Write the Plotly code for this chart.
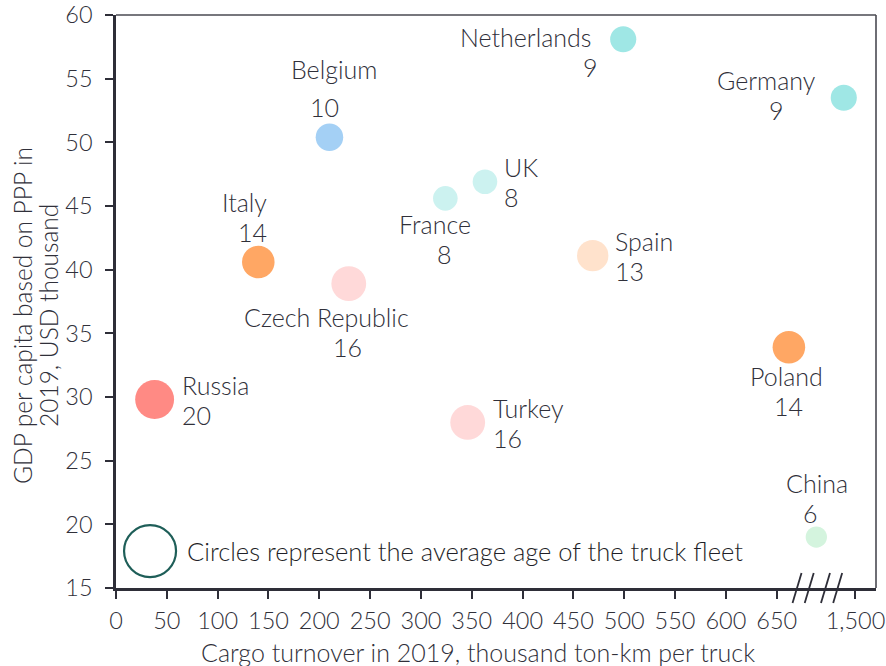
import numpy as np
import plotly.graph_objects as go

# Countries, cargo turnover (axis position, thousand ton-km per truck),
# GDP per capita (PPP, USD thousand) and average truck-fleet age (years).
# Germany and China sit on the compressed segment past the axis break.
countries = ["Russia", "Italy", "Czech Republic", "Belgium", "Netherlands", "Germany",
             "UK", "France", "Spain", "Turkey", "Poland", "China"]
cargo_pos = [38, 140, 229, 210, 499, 716, 363, 324, 469, 346, 662, 689]
gdp = [29.8, 40.6, 38.9, 50.4, 58.1, 53.5, 46.9, 45.6, 41.1, 28.0, 33.9, 19.0]
fleet_age = [20, 14, 16, 10, 9, 9, 8, 8, 13, 16, 14, 6]
colors = ["#FF8A84", "#FFA764", "#FFD9D9", "#A4D0F5", "#9FE7E5", "#9FE7E5",
          "#CCF2F0", "#CCF2F0", "#FFE2CC", "#FFD9D9", "#FFA764", "#D4F4DE"]

x_ticks = list(range(0, 651, 50)) + [727.5]
x_tick_text = [str(v) for v in range(0, 651, 50)] + ["1,500"]
y_ticks = list(range(15, 61, 5))
break_marks = [670, 682, 698, 710]

X_RANGE = [0, 747.7]
Y_RANGE = [15, 60]

FONT = "Lato"
TXT = "#30303A"
AXIS = "#2E2E38"
LABEL_SIZE = 25

fig = go.Figure()

# Bubbles: area proportional to fleet age
fig.add_trace(go.Scatter(
    x=cargo_pos, y=gdp, mode="markers",
    marker=dict(size=8.7 * np.sqrt(fleet_age), sizemode="diameter",
                color=colors, opacity=1, line=dict(width=0)),
    hoverinfo="skip", showlegend=False, cliponaxis=False,
))

# Size key: open ring
fig.add_trace(go.Scatter(
    x=[33.5], y=[17.9], mode="markers",
    marker=dict(size=52, color="rgba(0,0,0,0)", line=dict(color="#1E5E58", width=2.2)),
    hoverinfo="skip", showlegend=False,
))

idx = {c: i for i, c in enumerate(countries)}
ann = []


def label(country, text, dx, dy, xanchor="center"):
    i = idx[country]
    ann.append(dict(x=cargo_pos[i], y=gdp[i], xref="x", yref="y", text=text,
                    showarrow=False, xshift=dx, yshift=dy, xanchor=xanchor,
                    yanchor="middle", borderpad=0,
                    font=dict(family=FONT, size=LABEL_SIZE, color=TXT, weight=300)))


# country name and fleet age, one line each
label("Russia", "Russia", 26, 15, "left")
label("Russia", "20", 26, -15, "left")
label("UK", "UK", 18, 14.5, "left")
label("UK", "8", 18, -15.5, "left")
label("Spain", "Spain", 21, 14.5, "left")
label("Spain", "13", 21, -15.5, "left")
label("Turkey", "Turkey", 24, 14, "left")
label("Turkey", "16", 24, -16, "left")
label("Italy", "Italy", 10, 60, "right")
label("Italy", "14", 10, 30, "right")
label("Poland", "Poland", -2, -29)
label("Poland", "14", 0, -59)
label("Czech Republic", "Czech Republic", -22, -33.5)
label("Czech Republic", "16", -1, -63.5)
label("Belgium", "Belgium", 4.5, 68)
label("Belgium", "10", -5, 30)
label("Netherlands", "Netherlands", -31, 2, "right")
label("Netherlands", "9", -33, -28)
label("Germany", "Germany", -77, 17.5)
label("Germany", "9", -67, -12.5)
label("France", "France", -10, -25.5)
label("France", "8", -1, -55.5)
label("China", "China", 1, 54.5)
label("China", "6", -6, 24.5)

# Size key caption
ann.append(dict(x=33.5, y=17.9, xref="x", yref="y", xshift=36, xanchor="left",
                yanchor="middle", showarrow=False, borderpad=0,
                text="Circles represent the average age of the truck fleet",
                font=dict(family=FONT, size=25.5, color="#1F1F28", weight=300)))

# Axis titles (placed in pixels relative to the plot area)
PLOT_L, PLOT_R, PLOT_T, PLOT_B = 116, 876, 15, 588


def px_to_paper(px, py):
    return (px - PLOT_L) / (PLOT_R - PLOT_L), (PLOT_B - py) / (PLOT_B - PLOT_T)


tx, ty = px_to_paper(478, 652)
ann.append(dict(x=tx, y=ty, xref="paper", yref="paper", showarrow=False,
                xanchor="center", yanchor="middle",
                text="Cargo turnover in 2019, thousand ton-km per truck",
                font=dict(family=FONT, size=LABEL_SIZE, color=TXT, weight=300)))
for px, line in [(22, "GDP per capita based on PPP in"), (48, "2019, USD thousand")]:
    ax, ay = px_to_paper(px, 316)
    ann.append(dict(x=ax, y=ay, xref="paper", yref="paper", showarrow=False,
                    xanchor="center", yanchor="middle", textangle=-90, text=line,
                    borderpad=0,
                    font=dict(family=FONT, size=24.5, color=TXT, weight=300)))

shapes = [
    # top and right frame edges
    dict(type="line", xref="paper", yref="paper", x0=0, x1=1, y0=1, y1=1,
         line=dict(color="#4A4A52", width=1.6)),
    dict(type="line", xref="paper", yref="paper", x0=1, x1=1, y0=0, y1=1,
         line=dict(color="#4A4A52", width=1.6)),
]
# axis-break slashes across the bottom axis
for bx in break_marks:
    xp = (bx - X_RANGE[0]) / (X_RANGE[1] - X_RANGE[0])
    shapes.append(dict(type="line", xref="paper", yref="paper",
                       xsizemode="pixel", ysizemode="pixel",
                       xanchor=xp, yanchor=0, x0=-4.5, x1=4.5, y0=-15, y1=15,
                       line=dict(color=AXIS, width=1.8)))

axis_common = dict(showgrid=False, zeroline=False, showline=True, linecolor=AXIS,
                   linewidth=2.5, ticks="outside", ticklen=8, tickwidth=2,
                   tickcolor=AXIS, automargin=False,
                   tickfont=dict(family=FONT, size=23.5, color=TXT, weight=300))

fig.update_layout(
    width=886, height=666,
    margin=dict(l=PLOT_L, r=886 - PLOT_R, t=PLOT_T, b=666 - PLOT_B, pad=0),
    paper_bgcolor="white", plot_bgcolor="white",
    font=dict(family=FONT, color=TXT),
    xaxis=dict(range=X_RANGE, tickmode="array", tickvals=x_ticks, ticktext=x_tick_text,
               ticklabelstandoff=2, **axis_common),
    yaxis=dict(range=Y_RANGE, tickmode="array", tickvals=y_ticks,
               ticklabelstandoff=8, **axis_common),
    annotations=ann, shapes=shapes,
)

fig.write_html("out.html")
